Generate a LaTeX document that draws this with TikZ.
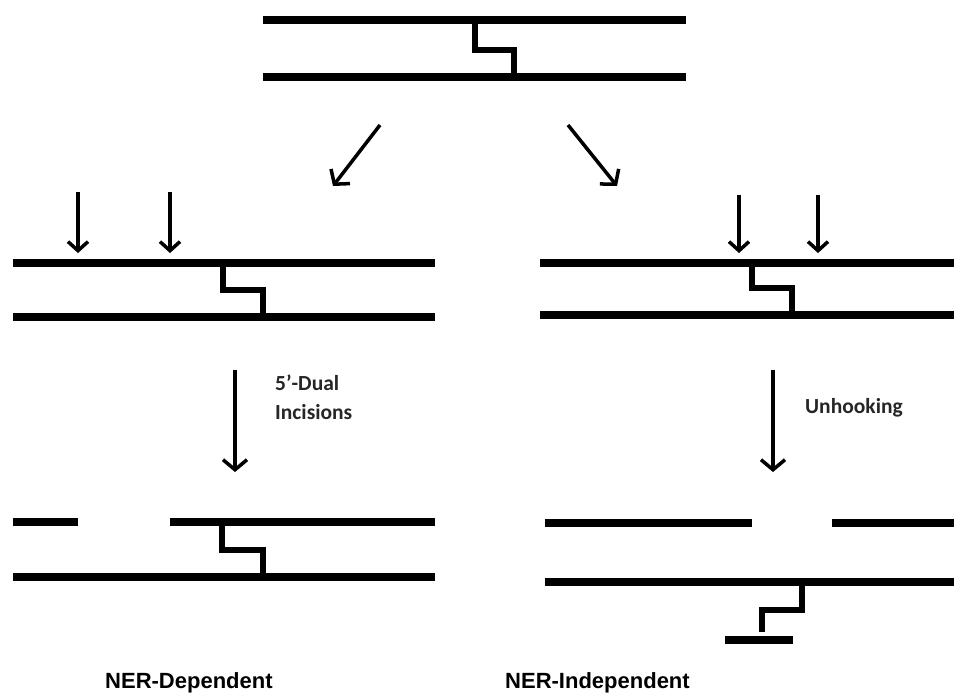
\documentclass[tikz,border=0pt]{standalone}
\usepackage{fontspec}
\setmainfont{Liberation Sans}
\newfontfamily\calfont{Carlito}
\usetikzlibrary{arrows.meta}

\tikzset{
  strand/.style={line width=8pt},
  xlink/.style={line width=6pt},
  cutarrow/.style={line width=3.5pt,-{Straight Barb[length=9pt,width=20pt]}},
  stagearrow/.style={line width=3.5pt,-{Straight Barb[length=10pt,width=24pt]}},
  steplabel/.style={font=\calfont\bfseries\fontsize{21.5}{29}\selectfont,text=black!85,anchor=west,align=left,inner sep=0pt},
  pathlabel/.style={font=\bfseries\fontsize{22}{24}\selectfont,anchor=base west,inner sep=0pt}
}

\begin{document}
\begin{tikzpicture}[x=1pt,y=-1pt]
\useasboundingbox (0,0) rectangle (954,694);

% crosslinked duplex
\draw[strand] (263,20) -- (686,20);
\draw[strand] (263,77) -- (686,77);
\draw[xlink] (475,20) |- (514,50) -- (514,77);

\coordinate (splitL) at (380,125);
\coordinate (splitLend) at (333,186);
\coordinate (splitR) at (568,125);
\coordinate (splitRend) at (617,186);
\draw[stagearrow] (splitL) -- (splitLend);
\draw[stagearrow] (splitR) -- (splitRend);

% NER-dependent incisions
\draw[strand] (13,263) -- (435,263);
\draw[strand] (13,317) -- (435,317);
\draw[xlink] (223,263) |- (263,290) -- (263,317);
\foreach \x in {78,170} {
  \coordinate (cut\x) at (\x,192);
  \draw[cutarrow] (cut\x) -- +(0,61);
}

% NER-independent incisions
\draw[strand] (540,263) -- (954,263);
\draw[strand] (540,315) -- (954,315);
\draw[xlink] (752,263) |- (792,288) -- (792,315);
\foreach \x in {739,818} {
  \coordinate (cut\x) at (\x,195);
  \draw[cutarrow] (cut\x) -- +(0,58);
}

% steps
\coordinate (stepL) at (235,370);
\coordinate (stepLend) at (235,472);
\draw[stagearrow] (stepL) -- (stepLend);
\node[steplabel] (dual) at (275,397) {5’-Dual\\Incisions};

\coordinate (stepR) at (773,370);
\coordinate (stepRend) at (773,472);
\draw[stagearrow] (stepR) -- (stepRend);
\node[steplabel] (unhook) at (805,408) {Unhooking};

% products
\draw[strand] (13,522) -- (78,522);
\draw[strand] (170,522) -- (435,522);
\draw[strand] (13,577) -- (435,577);
\draw[xlink] (222,522) |- (263,550) -- (263,577);

\draw[strand] (545,523) -- (752,523);
\draw[strand] (832,523) -- (954,523);
\draw[strand] (545,582) -- (954,582);
\draw[xlink] (802,582) |- (762,610) -- (762,632);
\draw[strand] (725,640) -- (793,640);

\node[pathlabel] (nerdep) at (105,688) {NER-Dependent};
\node[pathlabel] (nerind) at (505,688) {NER-Independent};
\end{tikzpicture}
\end{document}
